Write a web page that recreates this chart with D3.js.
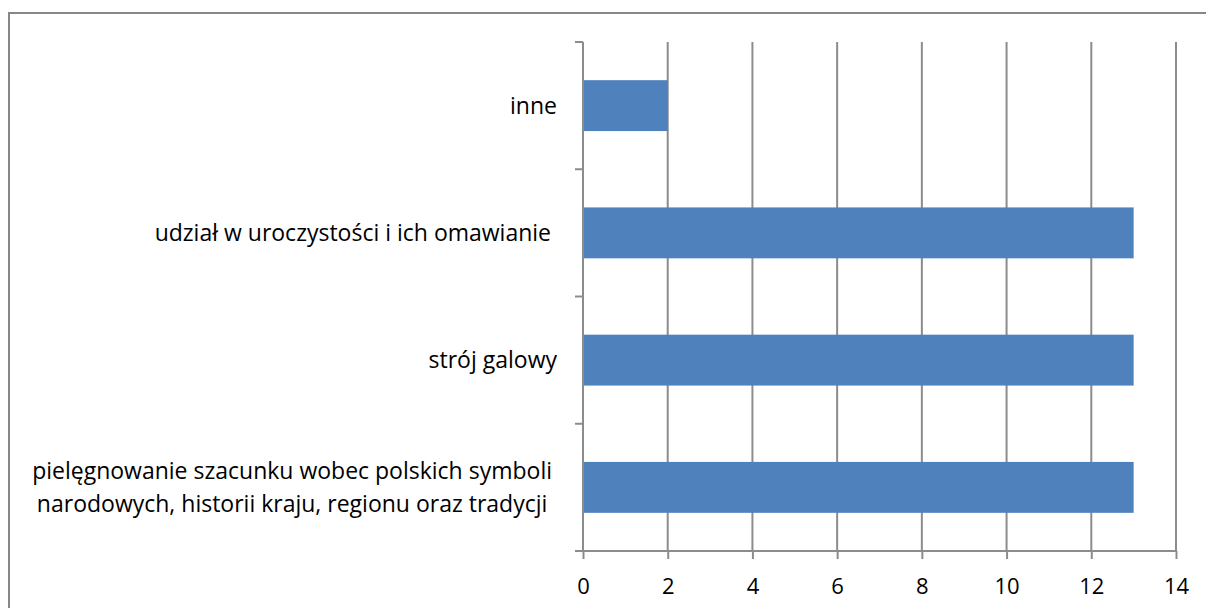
<!DOCTYPE html>
<html>
<head>
<meta charset="utf-8">
<script src="https://cdn.jsdelivr.net/npm/d3@7"></script>
<style>
  body { margin: 0; background: #fff; }
  svg text { font-family: "Open Sans", "Noto Sans", sans-serif; fill: #000; }
</style>
</head>
<body>
<div id="chart"></div>
<script>
//Datos del gráfico (de abajo hacia arriba)
const categories = [
    ['pielęgnowanie szacunku wobec polskich symboli', 'narodowych, historii kraju, regionu oraz tradycji'],
    ['strój galowy'],
    ['udział w uroczystości i ich omawianie '],
    ['inne']
];
const values = [13, 13, 13, 2];
const xTicks = [0, 2, 4, 6, 8, 10, 12, 14];

const COLOR_BAR = '#4F81BD', COLOR_GRID = '#8C8C8C';

let W = 1206, H = 608;
let margin = {top: 42, right: 30, bottom: 57, left: 583},
    width = W - margin.left - margin.right,
    height = H - margin.top - margin.bottom;

let root = d3.select('#chart').append('svg')
    .attr('width', W).attr('height', H);

//Marco exterior
root.append('rect')
    .attr('x', 9).attr('y', 13)
    .attr('width', W + 20).attr('height', H + 20)
    .attr('fill', 'none').attr('stroke', '#878787').attr('stroke-width', 2);

let svg = root.append('g')
    .attr('transform', 'translate(' + margin.left + ',' + margin.top + ')');

let x = d3.scaleLinear().domain([0, 14]).range([0, width]);

let idx = categories.map(function(d, i) { return i; });
let y = d3.scaleBand()
    .domain(idx.slice().reverse())
    .range([0, height])
    .paddingInner(0.6)
    .paddingOuter(0.3);

//Líneas de cuadrícula verticales
svg.append('g')
    .selectAll('line')
    .data(xTicks.slice(1))
    .enter().append('line')
    .attr('x1', function(d) { return x(d); }).attr('x2', function(d) { return x(d); })
    .attr('y1', 0).attr('y2', height)
    .attr('stroke', COLOR_GRID).attr('stroke-width', 2);

//Barras
svg.append('g')
    .selectAll('rect')
    .data(values)
    .enter().append('rect')
    .attr('x', x(0))
    .attr('y', function(d, i) { return y(i); })
    .attr('width', function(d) { return x(d) - x(0); })
    .attr('height', y.bandwidth())
    .attr('fill', COLOR_BAR);

//Eje X
let xAxis = svg.append('g')
    .attr('transform', 'translate(0,' + height + ')')
    .call(d3.axisBottom(x).tickValues(xTicks).tickSize(8).tickPadding(19).tickSizeOuter(0));
xAxis.select('.domain').attr('stroke', COLOR_GRID).attr('stroke-width', 2)
    .attr('d', 'M-8,0H' + width);
xAxis.selectAll('.tick line').attr('stroke', COLOR_GRID).attr('stroke-width', 2);
xAxis.selectAll('.tick text').style('font-size', '22px').attr('dy', '0.71em');

//Eje Y (marcas entre categorías)
let yTicks = d3.range(categories.length + 1).map(function(i) { return i * height / categories.length; });
svg.append('line')
    .attr('x1', 0).attr('x2', 0).attr('y1', 0).attr('y2', height)
    .attr('stroke', COLOR_GRID).attr('stroke-width', 2);
svg.append('g')
    .selectAll('line')
    .data(yTicks)
    .enter().append('line')
    .attr('x1', -8).attr('x2', 0)
    .attr('y1', function(d) { return d; }).attr('y2', function(d) { return d; })
    .attr('stroke', COLOR_GRID).attr('stroke-width', 2);

//Etiquetas de categorías (bloque alineado a la derecha, líneas centradas)
let lineH = 33;
let labels = svg.append('g')
    .selectAll('text')
    .data(categories)
    .enter().append('text')
    .attr('text-anchor', 'middle')
    .style('white-space', 'pre')
    .style('font-size', '23px')
    .attr('y', function(d, i) { return y(i) + y.bandwidth() / 2 - (d.length - 1) * lineH / 2; });
labels.selectAll('tspan')
    .data(function(d) { return d; })
    .enter().append('tspan')
    .attr('dy', function(d, j) { return j === 0 ? '0.35em' : lineH; })
    .text(function(d) { return d; });
labels.each(function(d) {
    let spans = d3.select(this).selectAll('tspan');
    let maxW = d3.max(spans.nodes(), function(n) { return n.getComputedTextLength(); });
    let right = d.length > 1 ? -31 : -26;
    spans.attr('x', right - maxW / 2);
});
</script>
</body>
</html>
